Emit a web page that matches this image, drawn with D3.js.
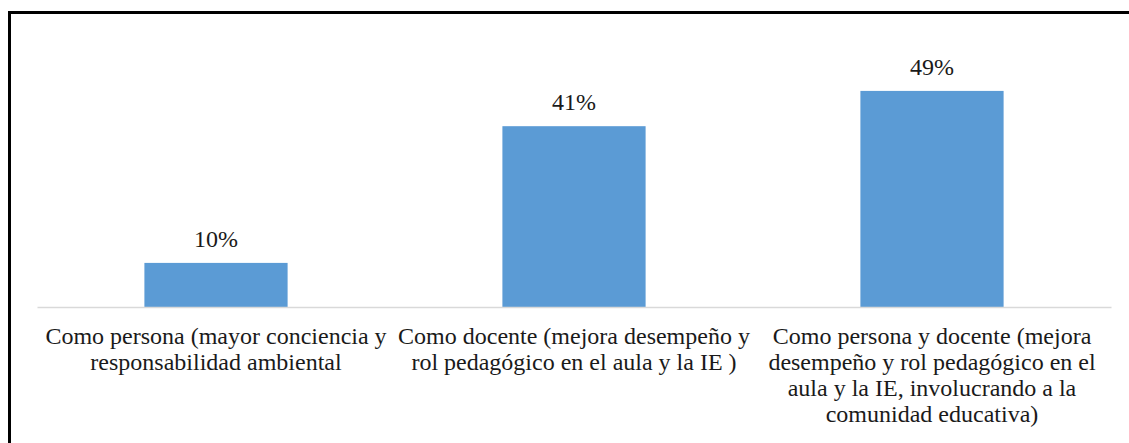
<!DOCTYPE html>
<html>
<head>
<meta charset="utf-8">
<script src="https://cdn.jsdelivr.net/npm/d3@7"></script>
<style>
  body { margin: 0; background: #fff; }
  svg { display: block; }
</style>
</head>
<body>
<svg id="chart"></svg>
<script>
// data
var categories = ["persona", "docente", "ambos"];
var values = [10, 41, 49];
var valueLabels = ["10%", "41%", "49%"];
var tickLines = [
  ["Como persona (mayor conciencia y", "responsabilidad ambiental"],
  ["Como docente (mejora desempeño y", "rol pedagógico en el aula y la IE )"],
  ["Como persona y docente (mejora", "desempeño y rol pedagógico en el", "aula y la IE, involucrando a la", "comunidad educativa)"]
];

var width = 1129,
    height = 443;

var svg = d3.select("#chart")
    .attr("width", width)
    .attr("height", height);

// outer frame (right and bottom edges fall outside the picture)
svg.append("rect")
    .attr("x", 9.5)
    .attr("y", 12.5)
    .attr("width", 1140)
    .attr("height", 460)
    .attr("fill", "none")
    .attr("stroke", "#000")
    .attr("stroke-width", 3);

var baseY = 307;

var x = d3.scaleBand()
    .domain(categories)
    .range([37, 1111])
    .paddingInner(0.6)
    .paddingOuter(0.3);

var y = d3.scaleLinear()
    .domain([0, 60])
    .range([baseY, baseY - 60 * 4.41]);

var g = svg.append("g");

g.selectAll(".bar")
    .data(values)
    .enter().append("rect")
    .attr("class", "bar")
    .attr("x", function(d, i) { return x(categories[i]); })
    .attr("y", function(d) { return y(d); })
    .attr("width", x.bandwidth())
    .attr("height", function(d) { return y(0) - y(d); })
    .attr("fill", "#5B9BD5");

g.selectAll(".val")
    .data(values)
    .enter().append("text")
    .attr("class", "val")
    .attr("x", function(d, i) { return x(categories[i]) + x.bandwidth() / 2; })
    .attr("y", function(d) { return y(d) - 16; })
    .attr("text-anchor", "middle")
    .attr("font-family", "'Liberation Serif', 'Times New Roman', serif")
    .attr("font-size", 24)
    .attr("fill", "#1a1a1a")
    .text(function(d, i) { return valueLabels[i]; });

// category axis
var axis = d3.axisBottom(x).tickSize(0).tickFormat("");
var ax = svg.append("g")
    .attr("transform", "translate(0," + baseY + ")")
    .call(axis);
ax.select(".domain")
    .attr("stroke", "#d9d9d9")
    .attr("stroke-width", 1.3);

var lbl = svg.selectAll(".cat")
    .data(tickLines)
    .enter().append("text")
    .attr("class", "cat")
    .attr("text-anchor", "middle")
    .attr("font-family", "'Liberation Serif', 'Times New Roman', serif")
    .attr("font-size", 24)
    .attr("fill", "#1a1a1a");

lbl.each(function(lines, i) {
  var cx = x(categories[i]) + x.bandwidth() / 2;
  d3.select(this).selectAll("tspan")
    .data(lines)
    .enter().append("tspan")
    .attr("x", cx)
    .attr("y", function(d, j) { return 344 + j * 26; })
    .text(function(d) { return d; });
});
</script>
</body>
</html>
